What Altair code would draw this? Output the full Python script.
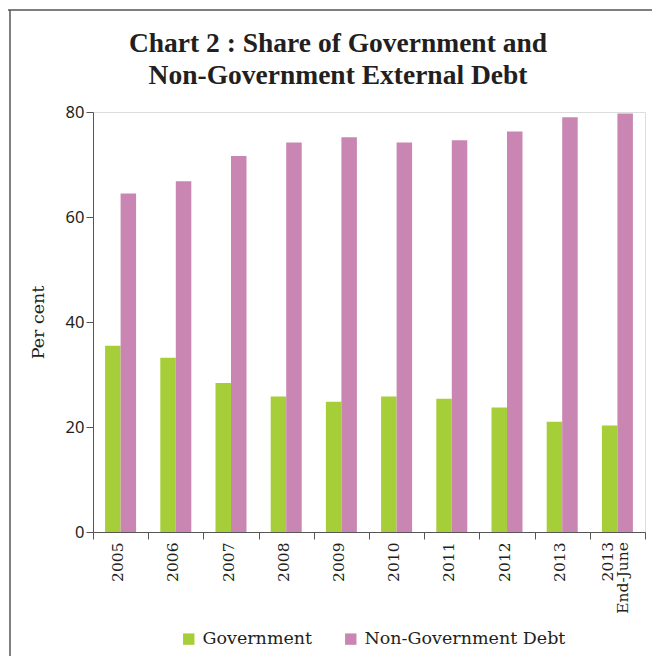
import altair as alt
import pandas as pd

years = ["2005", "2006", "2007", "2008", "2009", "2010", "2011", "2012", "2013", "2013|End-June"]
government = [35.5, 33.2, 28.4, 25.8, 24.8, 25.8, 25.4, 23.7, 21.0, 20.3]
non_government = [64.5, 66.8, 71.6, 74.2, 75.2, 74.2, 74.6, 76.3, 79.0, 79.7]
series_names = ["Government", "Non-Government Debt"]
colors = ["#a6ce39", "#c986b2"]
y_ticks = [0, 20, 40, 60, 80]
title_lines = ["Chart 2 : Share of Government and", "Non-Government External Debt"]
multi_line_year = "2013|End-June"

rows = []
for i, yr in enumerate(years):
    rows.append({"year": yr, "series": series_names[0], "value": government[i]})
    rows.append({"year": yr, "series": series_names[1], "value": non_government[i]})
df = pd.DataFrame(rows)

W, H = 552, 420
PAD_L, PAD_T = 93, 112
LABEL_FONT = "DejaVu Serif"
LABEL_SIZE = 15.5

bars = alt.Chart(df).mark_bar().encode(
    x=alt.X("year:N", sort=years, title=None,
            scale=alt.Scale(paddingInner=0, paddingOuter=0),
            axis=alt.Axis(labelAngle=270,
                          labelExpr="indexof(datum.label, '|') >= 0 ? '' : datum.label",
                          tickBand="extent", tickSize=7, labelPadding=3,
                          labelOffset=-3,
                          labelFont=LABEL_FONT, labelFontSize=LABEL_SIZE,
                          labelColor="#231f20",
                          domainColor="#555555", tickColor="#555555")),
    xOffset=alt.XOffset("series:N", sort=series_names,
                        scale=alt.Scale(paddingInner=0, paddingOuter=0.78)),
    y=alt.Y("value:Q", title="Per cent",
            scale=alt.Scale(domain=[0, 80], nice=False),
            axis=alt.Axis(values=y_ticks, grid=False, tickSize=7, labelPadding=2,
                          labelFont="Noto Sans", labelFontSize=16.5, labelColor="#231f20",
                          titleFont="DejaVu Serif", titleFontSize=17.5, titleFontWeight="normal",
                          titleColor="#231f20", titlePadding=18,
                          domainColor="#555555", tickColor="#555555")),
    color=alt.Color("series:N", sort=series_names,
                    scale=alt.Scale(domain=series_names, range=colors),
                    legend=alt.Legend(title=None, orient="none", direction="horizontal",
                                      legendX=87, legendY=518, padding=0,
                                      symbolType="square", symbolSize=130,
                                      symbolStrokeWidth=0, labelOffset=5,
                                      columnPadding=29, labelLimit=0,
                                      labelFont="DejaVu Serif", labelFontSize=17.5,
                                      labelColor="#231f20")),
)

# two-line category label (2013 / End-June) centred on its band
last_label = alt.Chart(pd.DataFrame({"year": [multi_line_year]})).mark_text(
    angle=270, align="right", baseline="middle", lineBreak="|", lineHeight=15,
    dy=-9, font=LABEL_FONT, fontSize=LABEL_SIZE, color="#231f20").encode(
    x=alt.X("year:N", sort=years, title=None),
    y=alt.value(H + 10),
    text="year:N")

title1 = alt.Chart(pd.DataFrame({"t": [title_lines[0]]})).mark_text(
    font="Liberation Serif", fontSize=27.5, fontWeight="bold", color="#231f20",
    align="center", baseline="alphabetic").encode(
    text="t:N", x=alt.value(338 - PAD_L), y=alt.value(52 - PAD_T))
title2 = alt.Chart(pd.DataFrame({"t": [title_lines[1]]})).mark_text(
    font="Liberation Serif", fontSize=27.5, fontWeight="bold", color="#231f20",
    align="center", baseline="alphabetic").encode(
    text="t:N", x=alt.value(338 - PAD_L), y=alt.value(84 - PAD_T))

frame_top = alt.Chart(pd.DataFrame({"k": [0]})).mark_rule(color="#555555", strokeWidth=1.5).encode(
    x=alt.value(8 - PAD_L), x2=alt.value(652 - PAD_L), y=alt.value(10 - PAD_T))
frame_left = alt.Chart(pd.DataFrame({"k": [0]})).mark_rule(color="#555555", strokeWidth=1.5).encode(
    x=alt.value(10 - PAD_L), y=alt.value(10 - PAD_T), y2=alt.value(656 - PAD_T))

chart = alt.layer(bars, last_label, title1, title2, frame_top, frame_left).properties(
    width=W, height=H,
    autosize=alt.AutoSizeParams(type="none"),
    padding={"left": PAD_L, "top": PAD_T, "right": 7, "bottom": 124},
).configure_view(stroke=None).configure(background="white")

chart.save("out.html", embed_options={"renderer": "svg", "actions": False})
